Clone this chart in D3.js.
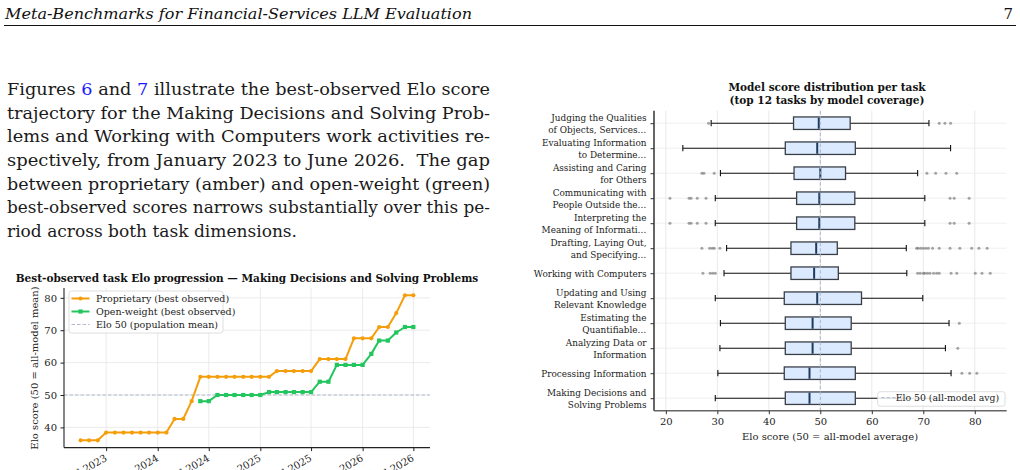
<!DOCTYPE html>
<html>
<head>
<meta charset="utf-8">
<script src="https://cdn.jsdelivr.net/npm/d3@7"></script>
<style>
  body { margin: 0; background: #fff; }
  svg { display: block; }
</style>
</head>
<body>
<svg id="page" width="1020" height="470"></svg>
<script>
// ---- page text ----
var headerTitle = "Meta-Benchmarks for Financial-Services LLM Evaluation";
var pageNumber = "7";
var paraLines = [
  [["Figures ", 0], ["6", 1], [" and ", 0], ["7", 1], [" illustrate the best-observed Elo score", 0]],
  [["trajectory for the Making Decisions and Solving Prob-", 0]],
  [["lems and Working with Computers work activities re-", 0]],
  [["spectively, from January 2023 to June 2026.  The gap", 0]],
  [["between proprietary (amber) and open-weight (green)", 0]],
  [["best-observed scores narrows substantially over this pe-", 0]],
  [["riod across both task dimensions.", 0]]
];

// ---- left chart data ----
var months = ["2023-04","2023-05","2023-06","2023-07","2023-08","2023-09","2023-10","2023-11","2023-12",
  "2024-01","2024-02","2024-03","2024-04","2024-05","2024-06","2024-07","2024-08","2024-09","2024-10","2024-11","2024-12",
  "2025-01","2025-02","2025-03","2025-04","2025-05","2025-06","2025-07","2025-08","2025-09","2025-10","2025-11","2025-12",
  "2026-01","2026-02","2026-03","2026-04","2026-05","2026-06","2026-07"];
var propScores = [36.0,36.0,36.0,38.4,38.4,38.4,38.4,38.4,38.4,38.4,38.4,42.6,42.6,48.1,55.6,55.6,55.6,55.6,55.6,55.6,
  55.6,55.6,55.6,57.4,57.4,57.4,57.4,57.4,61.1,61.1,61.1,61.1,67.5,67.5,67.5,71.0,71.0,75.3,80.8,80.8];
var openScores = [null,null,null,null,null,null,null,null,null,null,null,null,null,null,48.1,48.1,50.0,50.0,50.0,50.0,
  50.0,50.0,50.9,50.9,50.9,50.9,50.9,50.9,54.1,54.1,59.3,59.3,59.3,59.3,62.7,66.8,66.8,69.3,71.0,71.0];
var lineTicks = [40, 50, 60, 70, 80];
var dateTicks = ["2023-07","2024-01","2024-07","2025-01","2025-07","2026-01","2026-07"];
var dateTickLabels = ["Jul 2023","Jan 2024","Jul 2024","Jan 2025","Jul 2025","Jan 2026","Jul 2026"];
var lineLegend = ["Proprietary (best observed)", "Open-weight (best observed)", "Elo 50 (population mean)"];

// ---- right chart data (top row first) ----
var tasks = [
  ["Judging the Qualities", "of Objects, Services…"],
  ["Evaluating Information", "to Determine…"],
  ["Assisting and Caring", "for Others"],
  ["Communicating with", "People Outside the…"],
  ["Interpreting the", "Meaning of Informati…"],
  ["Drafting, Laying Out,", "and Specifying…"],
  ["Working with Computers"],
  ["Updating and Using", "Relevant Knowledge"],
  ["Estimating the", "Quantifiable…"],
  ["Analyzing Data or", "Information"],
  ["Processing Information"],
  ["Making Decisions and", "Solving Problems"]
];
var whiskerLo = [28.8, 23.3, 30.6, 29.6, 29.6, 31.8, 31.3, 29.6, 30.6, 30.5, 30.1, 29.6];
var q1 =        [44.8, 43.2, 44.9, 45.4, 45.4, 44.3, 44.3, 43.0, 43.2, 43.2, 43.0, 43.2];
var medians =   [49.7, 49.4, 50.0, 49.8, 49.8, 49.2, 48.8, 49.4, 48.5, 48.5, 47.9, 47.9];
var q3 =        [55.8, 56.8, 54.9, 56.7, 56.7, 53.3, 53.5, 58.0, 56.0, 56.0, 56.8, 56.8];
var whiskerHi = [71.1, 75.3, 68.9, 70.3, 70.3, 66.7, 66.8, 69.9, 75.0, 74.3, 75.4, 73.0];
var outliers = [
  [28.3, 73.1, 74.2, 75.3],
  [],
  [27.0, 27.4, 29.4, 70.7, 72.4, 74.4, 76.5],
  [20.8, 24.5, 24.9, 26.1, 27.8, 75.2, 76.0, 78.9],
  [20.8, 24.5, 24.9, 26.1, 27.8, 75.2, 76.0, 78.9],
  [27.0, 28.5, 29.0, 29.4, 30.5, 68.7, 69.0, 69.5, 70.0, 70.5, 71.0, 71.8, 73.1, 75.2, 77.1, 79.4, 80.8, 82.4],
  [27.2, 28.6, 29.1, 29.6, 68.9, 69.4, 70.0, 70.3, 70.8, 71.3, 72.0, 72.6, 73.1, 75.4, 76.5, 80.1, 81.4, 83.0],
  [],
  [77.0],
  [76.7],
  [77.5, 79.0, 80.4],
  []
];
var boxTicks = [20, 30, 40, 50, 60, 70, 80];

var serif = "'DejaVu Serif', serif";
var amber = "#f59e0b", green = "#22c55e", refColor = "#a8b4c6";

var svg = d3.select("#page");
svg.append("rect").attr("width", 1020).attr("height", 470).attr("fill", "#fff");

// ---- running header ----
svg.append("text")
  .attr("x", 5).attr("y", 19)
  .attr("font-family", serif).attr("font-style", "italic")
  .attr("font-size", 15).attr("fill", "#111")
  .attr("textLength", 467).attr("lengthAdjust", "spacingAndGlyphs")
  .text(headerTitle);
svg.append("text")
  .attr("x", 1013).attr("y", 19).attr("text-anchor", "end")
  .attr("font-family", serif).attr("font-size", 15).attr("fill", "#111")
  .text(pageNumber);
svg.append("line").attr("x1", 4).attr("x2", 1016).attr("y1", 25.5).attr("y2", 25.5)
  .attr("stroke", "#111").attr("stroke-width", 1);

// ---- paragraph ----
paraLines.forEach(function(parts, i) {
  var t = svg.append("text")
    .attr("x", 7).attr("y", 95 + i * 23.65)
    .attr("font-family", serif).attr("font-size", 16.5).attr("fill", "#1a1a1a")
    .attr("textLength", i < 6 ? 483 : 290).attr("lengthAdjust", "spacingAndGlyphs")
    .attr("xml:space", "preserve");
  parts.forEach(function(p) {
    t.append("tspan").attr("fill", p[1] ? "#1a1aff" : "#1a1a1a").text(p[0]);
  });
});

// ================= LEFT: line chart =================
var parseMonth = d3.timeParse("%Y-%m");
var dates = months.map(parseMonth);
var t0 = dates[0].getTime(), t1 = dates[dates.length - 1].getTime(), pad = (t1 - t0) * 0.05;
var x = d3.scaleTime().domain([new Date(t0 - pad), new Date(t1 + pad)]).range([64, 430]);
var y = d3.scaleLinear().domain([33.76, 83.04]).range([447.6, 288]);

var L = svg.append("g");
L.append("text")
  .attr("x", 247).attr("y", 281.5).attr("text-anchor", "middle")
  .attr("font-family", serif).attr("font-weight", "bold").attr("font-size", 10.5).attr("fill", "#111")
  .text("Best-observed task Elo progression — Making Decisions and Solving Problems");

// grid
L.append("g").selectAll("line").data(lineTicks).enter().append("line")
  .attr("x1", 64).attr("x2", 430)
  .attr("y1", function(d) { return y(d); }).attr("y2", function(d) { return y(d); })
  .attr("stroke", "#e6e6e6").attr("stroke-width", 0.8);
L.append("g").selectAll("line").data(dateTicks).enter().append("line")
  .attr("y1", 288).attr("y2", 447.6)
  .attr("x1", function(d) { return x(parseMonth(d)); }).attr("x2", function(d) { return x(parseMonth(d)); })
  .attr("stroke", "#e6e6e6").attr("stroke-width", 0.8);

// reference line
L.append("line").attr("x1", 64).attr("x2", 430).attr("y1", y(50)).attr("y2", y(50))
  .attr("stroke", refColor).attr("stroke-width", 0.9).attr("stroke-dasharray", "3.5,2");

// axes
var yAxisL = L.append("g").attr("transform", "translate(64,0)")
  .call(d3.axisLeft(y).tickValues(lineTicks).tickSize(3.5).tickPadding(3.5));
var xAxisL = L.append("g").attr("transform", "translate(0,447.6)")
  .call(d3.axisBottom(x).tickValues(dateTicks.map(parseMonth)).tickSize(3.5)
    .tickFormat(function(d, i) { return dateTickLabels[i]; }));
[yAxisL, xAxisL].forEach(function(a) {
  a.select(".domain").attr("stroke", "#222").attr("stroke-width", 1.1);
  a.selectAll(".tick line").attr("stroke", "#222");
  a.selectAll("text").attr("font-family", serif).attr("font-size", 10).attr("fill", "#222");
});
yAxisL.select(".domain").attr("d", "M0,288V447.6");
xAxisL.select(".domain").attr("d", "M64,0H430");
// rotated date labels run off the bottom edge, as in the source figure
xAxisL.selectAll("text")
  .attr("text-anchor", "end").attr("y", 0).attr("dy", 0)
  .attr("transform", "translate(1,12.5) rotate(-30)");

L.append("text")
  .attr("transform", "translate(38,368) rotate(-90)").attr("text-anchor", "middle")
  .attr("font-family", serif).attr("font-size", 10).attr("fill", "#222")
  .text("Elo score (50 = all-model mean)");

// series
var rows = dates.map(function(d, i) { return { date: d, p: propScores[i], o: openScores[i] }; });
var lineP = d3.line().x(function(d) { return x(d.date); }).y(function(d) { return y(d.p); });
var lineO = d3.line().defined(function(d) { return d.o != null; })
  .x(function(d) { return x(d.date); }).y(function(d) { return y(d.o); });
L.append("path").datum(rows).attr("d", lineP).attr("fill", "none")
  .attr("stroke", amber).attr("stroke-width", 2).attr("stroke-linejoin", "round");
L.append("path").datum(rows).attr("d", lineO).attr("fill", "none")
  .attr("stroke", green).attr("stroke-width", 2).attr("stroke-linejoin", "round");
L.append("g").selectAll("circle").data(rows).enter().append("circle")
  .attr("cx", function(d) { return x(d.date); }).attr("cy", function(d) { return y(d.p); })
  .attr("r", 2.1).attr("fill", amber);
L.append("g").selectAll("rect").data(rows.filter(function(d) { return d.o != null; })).enter().append("rect")
  .attr("x", function(d) { return x(d.date) - 2.1; }).attr("y", function(d) { return y(d.o) - 2.1; })
  .attr("width", 4.2).attr("height", 4.2).attr("fill", green);

// legend
var lg = L.append("g").attr("transform", "translate(69,291)");
lg.append("rect").attr("width", 154).attr("height", 42).attr("rx", 2.5)
  .attr("fill", "#fff").attr("fill-opacity", 0.85).attr("stroke", "#d6d6d6").attr("stroke-width", 0.8);
var legendStyles = [
  { color: amber, w: 2, dash: null, mark: "c" },
  { color: green, w: 2, dash: null, mark: "s" },
  { color: refColor, w: 0.9, dash: "3.5,2", mark: null }
];
lineLegend.forEach(function(label, i) {
  var yy = 7.5 + i * 13;
  var s = legendStyles[i];
  lg.append("line").attr("x1", 2.5).attr("x2", 20.5).attr("y1", yy).attr("y2", yy)
    .attr("stroke", s.color).attr("stroke-width", s.w).attr("stroke-dasharray", s.dash);
  if (s.mark == "c") lg.append("circle").attr("cx", 11.5).attr("cy", yy).attr("r", 2.1).attr("fill", s.color);
  if (s.mark == "s") lg.append("rect").attr("x", 9.4).attr("y", yy - 2.1).attr("width", 4.2).attr("height", 4.2).attr("fill", s.color);
  lg.append("text").attr("x", 27).attr("y", yy + 3.3)
    .attr("font-family", serif).attr("font-size", 9.5).attr("fill", "#222").text(label);
});

// ================= RIGHT: box plot =================
var bx = d3.scaleLinear().domain([17.7, 86.2]).range([654, 1006.7]);
var by = d3.scalePoint().domain(d3.range(tasks.length)).range([110.7, 410.7]).padding(0.5);
var boxH = by.step() * 0.5, capH = by.step() * 0.25;

var R = svg.append("g");
R.append("text").attr("x", 827).attr("text-anchor", "middle")
  .attr("font-family", serif).attr("font-weight", "bold").attr("font-size", 10.5).attr("fill", "#111")
  .selectAll("tspan").data(["Model score distribution per task", "(top 12 tasks by model coverage)"]).enter()
  .append("tspan").attr("x", 827).attr("y", function(d, i) { return 91 + i * 13.3; }).text(function(d) { return d; });

// grid
R.append("g").selectAll("line").data(boxTicks).enter().append("line")
  .attr("y1", 110.7).attr("y2", 410.7)
  .attr("x1", function(d) { return bx(d); }).attr("x2", function(d) { return bx(d); })
  .attr("stroke", "#e3e3e3").attr("stroke-width", 0.8);
R.append("g").selectAll("line").data(d3.range(tasks.length)).enter().append("line")
  .attr("x1", 654).attr("x2", 1006.7)
  .attr("y1", function(d) { return by(d); }).attr("y2", function(d) { return by(d); })
  .attr("stroke", "#ececec").attr("stroke-width", 0.8);

var boxes = R.append("g").selectAll("g").data(d3.range(tasks.length)).enter().append("g")
  .attr("transform", function(i) { return "translate(0," + by(i) + ")"; });
boxes.append("line")
  .attr("x1", function(i) { return bx(whiskerLo[i]); }).attr("x2", function(i) { return bx(q1[i]); })
  .attr("stroke", "#111").attr("stroke-width", 1.1);
boxes.append("line")
  .attr("x1", function(i) { return bx(q3[i]); }).attr("x2", function(i) { return bx(whiskerHi[i]); })
  .attr("stroke", "#111").attr("stroke-width", 1.1);
boxes.append("line")
  .attr("x1", function(i) { return bx(whiskerLo[i]); }).attr("x2", function(i) { return bx(whiskerLo[i]); })
  .attr("y1", -capH / 2).attr("y2", capH / 2).attr("stroke", "#111").attr("stroke-width", 1.1);
boxes.append("line")
  .attr("x1", function(i) { return bx(whiskerHi[i]); }).attr("x2", function(i) { return bx(whiskerHi[i]); })
  .attr("y1", -capH / 2).attr("y2", capH / 2).attr("stroke", "#111").attr("stroke-width", 1.1);
boxes.append("rect")
  .attr("x", function(i) { return bx(q1[i]); }).attr("y", -boxH / 2)
  .attr("width", function(i) { return bx(q3[i]) - bx(q1[i]); }).attr("height", boxH)
  .attr("fill", "#dbeafe").attr("stroke", "#3a3f47").attr("stroke-width", 1.3);
boxes.append("line")
  .attr("x1", function(i) { return bx(medians[i]); }).attr("x2", function(i) { return bx(medians[i]); })
  .attr("y1", -boxH / 2 + 0.7).attr("y2", boxH / 2 - 0.7).attr("stroke", "#1e3a5f").attr("stroke-width", 2);
boxes.selectAll("circle").data(function(i) { return outliers[i]; }).enter().append("circle")
  .attr("cx", function(d) { return bx(d); }).attr("cy", 0).attr("r", 1.5)
  .attr("fill", "#6b6b6b").attr("fill-opacity", 0.6);

// reference line
R.append("line").attr("x1", bx(50)).attr("x2", bx(50)).attr("y1", 110.7).attr("y2", 410.7)
  .attr("stroke", refColor).attr("stroke-width", 1).attr("stroke-dasharray", "3.5,2");

// axes
var yAxisR = R.append("g").attr("transform", "translate(654,0)")
  .call(d3.axisLeft(by).tickSize(3.5).tickFormat(""));
yAxisR.select(".domain").attr("d", "M0,110.7V410.7").attr("stroke", "#666").attr("stroke-width", 2);
yAxisR.selectAll(".tick line").attr("stroke", "#333");
yAxisR.selectAll(".tick").each(function(i) {
  var lines = tasks[i];
  var t = d3.select(this).append("text").attr("x", -7.5).attr("text-anchor", "end")
    .attr("font-family", serif).attr("font-size", 8.9).attr("fill", "#222");
  lines.forEach(function(s, k) {
    t.append("tspan").attr("x", -7.5)
      .attr("y", (k - (lines.length - 1) / 2) * 12 + 3.3).text(s);
  });
});
var xAxisR = R.append("g").attr("transform", "translate(0,410.7)")
  .call(d3.axisBottom(bx).tickValues(boxTicks).tickSize(3.5).tickPadding(3.5));
xAxisR.select(".domain").attr("d", "M654,0H1006.7").attr("stroke", "#666").attr("stroke-width", 1.4);
xAxisR.selectAll(".tick line").attr("stroke", "#333");
xAxisR.selectAll("text").attr("font-family", serif).attr("font-size", 10).attr("fill", "#222");
R.append("text").attr("x", 830).attr("y", 439.5).attr("text-anchor", "middle")
  .attr("font-family", serif).attr("font-size", 10).attr("fill", "#222")
  .text("Elo score (50 = all-model average)");

// legend
var rl = R.append("g").attr("transform", "translate(877.7,391.7)");
rl.append("rect").attr("width", 127.3).attr("height", 14.5).attr("rx", 2.5)
  .attr("fill", "#fff").attr("fill-opacity", 0.85).attr("stroke", "#d6d6d6").attr("stroke-width", 0.8);
rl.append("line").attr("x1", 3.5).attr("x2", 21.5).attr("y1", 6).attr("y2", 6)
  .attr("stroke", refColor).attr("stroke-width", 1).attr("stroke-dasharray", "3.5,2");
rl.append("text").attr("x", 121.5).attr("y", 9.4).attr("text-anchor", "end")
  .attr("font-family", serif).attr("font-size", 9.3).attr("fill", "#222")
  .text("Elo 50 (all-model avg)");
</script>
</body>
</html>
